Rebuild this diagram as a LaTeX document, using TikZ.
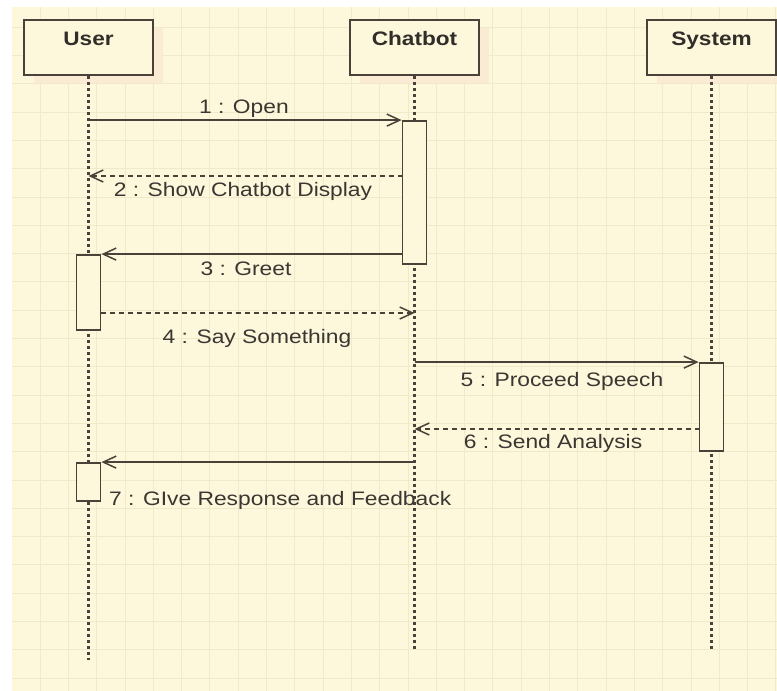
\documentclass[tikz,border=0pt]{standalone}
\usepackage{fontspec}
\setmainfont{Liberation Sans}
\usetikzlibrary{arrows.meta,shadows}
\definecolor{paper}{HTML}{FDF8DC}
\definecolor{gridc}{HTML}{F1E9CA}
\definecolor{ink}{HTML}{4A4239}
\definecolor{txt}{HTML}{3A3631}
\definecolor{shade}{HTML}{FAEBD5}
\begin{document}
\begin{tikzpicture}[x=1pt,y=-1pt,
  actor/.style={draw=ink, line width=2pt, fill=paper, minimum width=129pt,
    minimum height=55pt, inner sep=0pt,
    drop shadow={shadow xshift=10pt, shadow yshift=-8pt, fill=shade, opacity=1}},
  title/.style={font=\fontsize{19.5}{21}\selectfont\bfseries, text=txt!85!black,
    xscale=1.16, anchor=base, inner sep=0pt},
  msglabel/.style={font=\fontsize{19.5}{21}\selectfont, text=txt, xscale=1.17,
    anchor=base, inner sep=0pt},
  lifeline/.style={draw=ink, line width=2.2pt, dash pattern=on 3pt off 3pt},
  act/.style={draw=ink, line width=1.8pt, fill=paper, minimum width=24pt, inner sep=0pt},
  call/.style={draw=ink, line width=1.5pt,
    -{Straight Barb[length=13pt,width=12pt,line width=1.5pt]}},
  reply/.style={call, dash pattern=on 5pt off 4pt},
]
% page and grid paper
\useasboundingbox (0,0) rectangle (777,691);
\fill[white] (0,0) rectangle (777,691);
\fill[paper] (12,7) rectangle (777,691);
\foreach \gx in {40,68.3,...,777} \draw[gridc, line width=0.8pt] (\gx,7) -- (\gx,691);
\foreach \gy in {27.1,55.4,...,691} \draw[gridc, line width=0.8pt] (12,\gy) -- (777,\gy);

% participants
\node[actor] (user) at (88.5,47.5) {};
\node[actor] (chatbot) at (414.5,47.5) {};
\node[actor] (system) at (711.5,47.5) {};
\node[title] (usertitle) at (88.5,45) {User};
\node[title] (chatbottitle) at (414.5,45) {Chatbot};
\node[title] (systemtitle) at (711.5,45) {System};

% lifelines
\coordinate (userend) at (88.5,660);
\coordinate (chatbotend) at (414.5,650);
\coordinate (systemend) at (711.5,650);
\draw[lifeline] (user.south) -- (userend);
\draw[lifeline] (chatbot.south) -- (chatbotend);
\draw[lifeline] (system.south) -- (systemend);

% activation bars
\node[act, minimum height=143pt] (a1) at (414.5,192.5) {};
\node[act, minimum height=75pt] (u1) at (88.5,292.5) {};
\node[act, minimum height=88pt] (s1) at (711.5,407) {};
\node[act, minimum height=38pt] (u2) at (88.5,482) {};

% messages
\draw[call] (a1.north west -| user) -- (a1.north west);
\coordinate (m2a) at (402.5,176);
\draw[reply] (m2a) -- (m2a -| user);
\draw[call] (u1.north east -| a1.west) -- (u1.north east);
\coordinate (m4a) at (100.5,313);
\draw[reply] (m4a) -- (m4a -| chatbot);
\draw[call] (s1.north west -| chatbot) -- (s1.north west);
\coordinate (m6a) at (699.5,429);
\draw[reply] (m6a) -- (m6a -| chatbot);
\draw[call] (u2.north east -| chatbot) -- (u2.north east);

% message labels
\node[msglabel] (l1) at (244,113) {1 : Open};
\node[msglabel] (l2) at (243,196) {2 : Show Chatbot Display};
\node[msglabel] (l3) at (246,275) {3 : Greet};
\node[msglabel] (l4) at (257,343) {4 : Say Something};
\node[msglabel] (l5) at (562,386) {5 : Proceed Speech};
\node[msglabel] (l6) at (553,448) {6 : Send Analysis};
\node[msglabel, anchor=base west] (l7) at (109,505) {7 : GIve Response and Feedback};
\end{tikzpicture}
\end{document}
